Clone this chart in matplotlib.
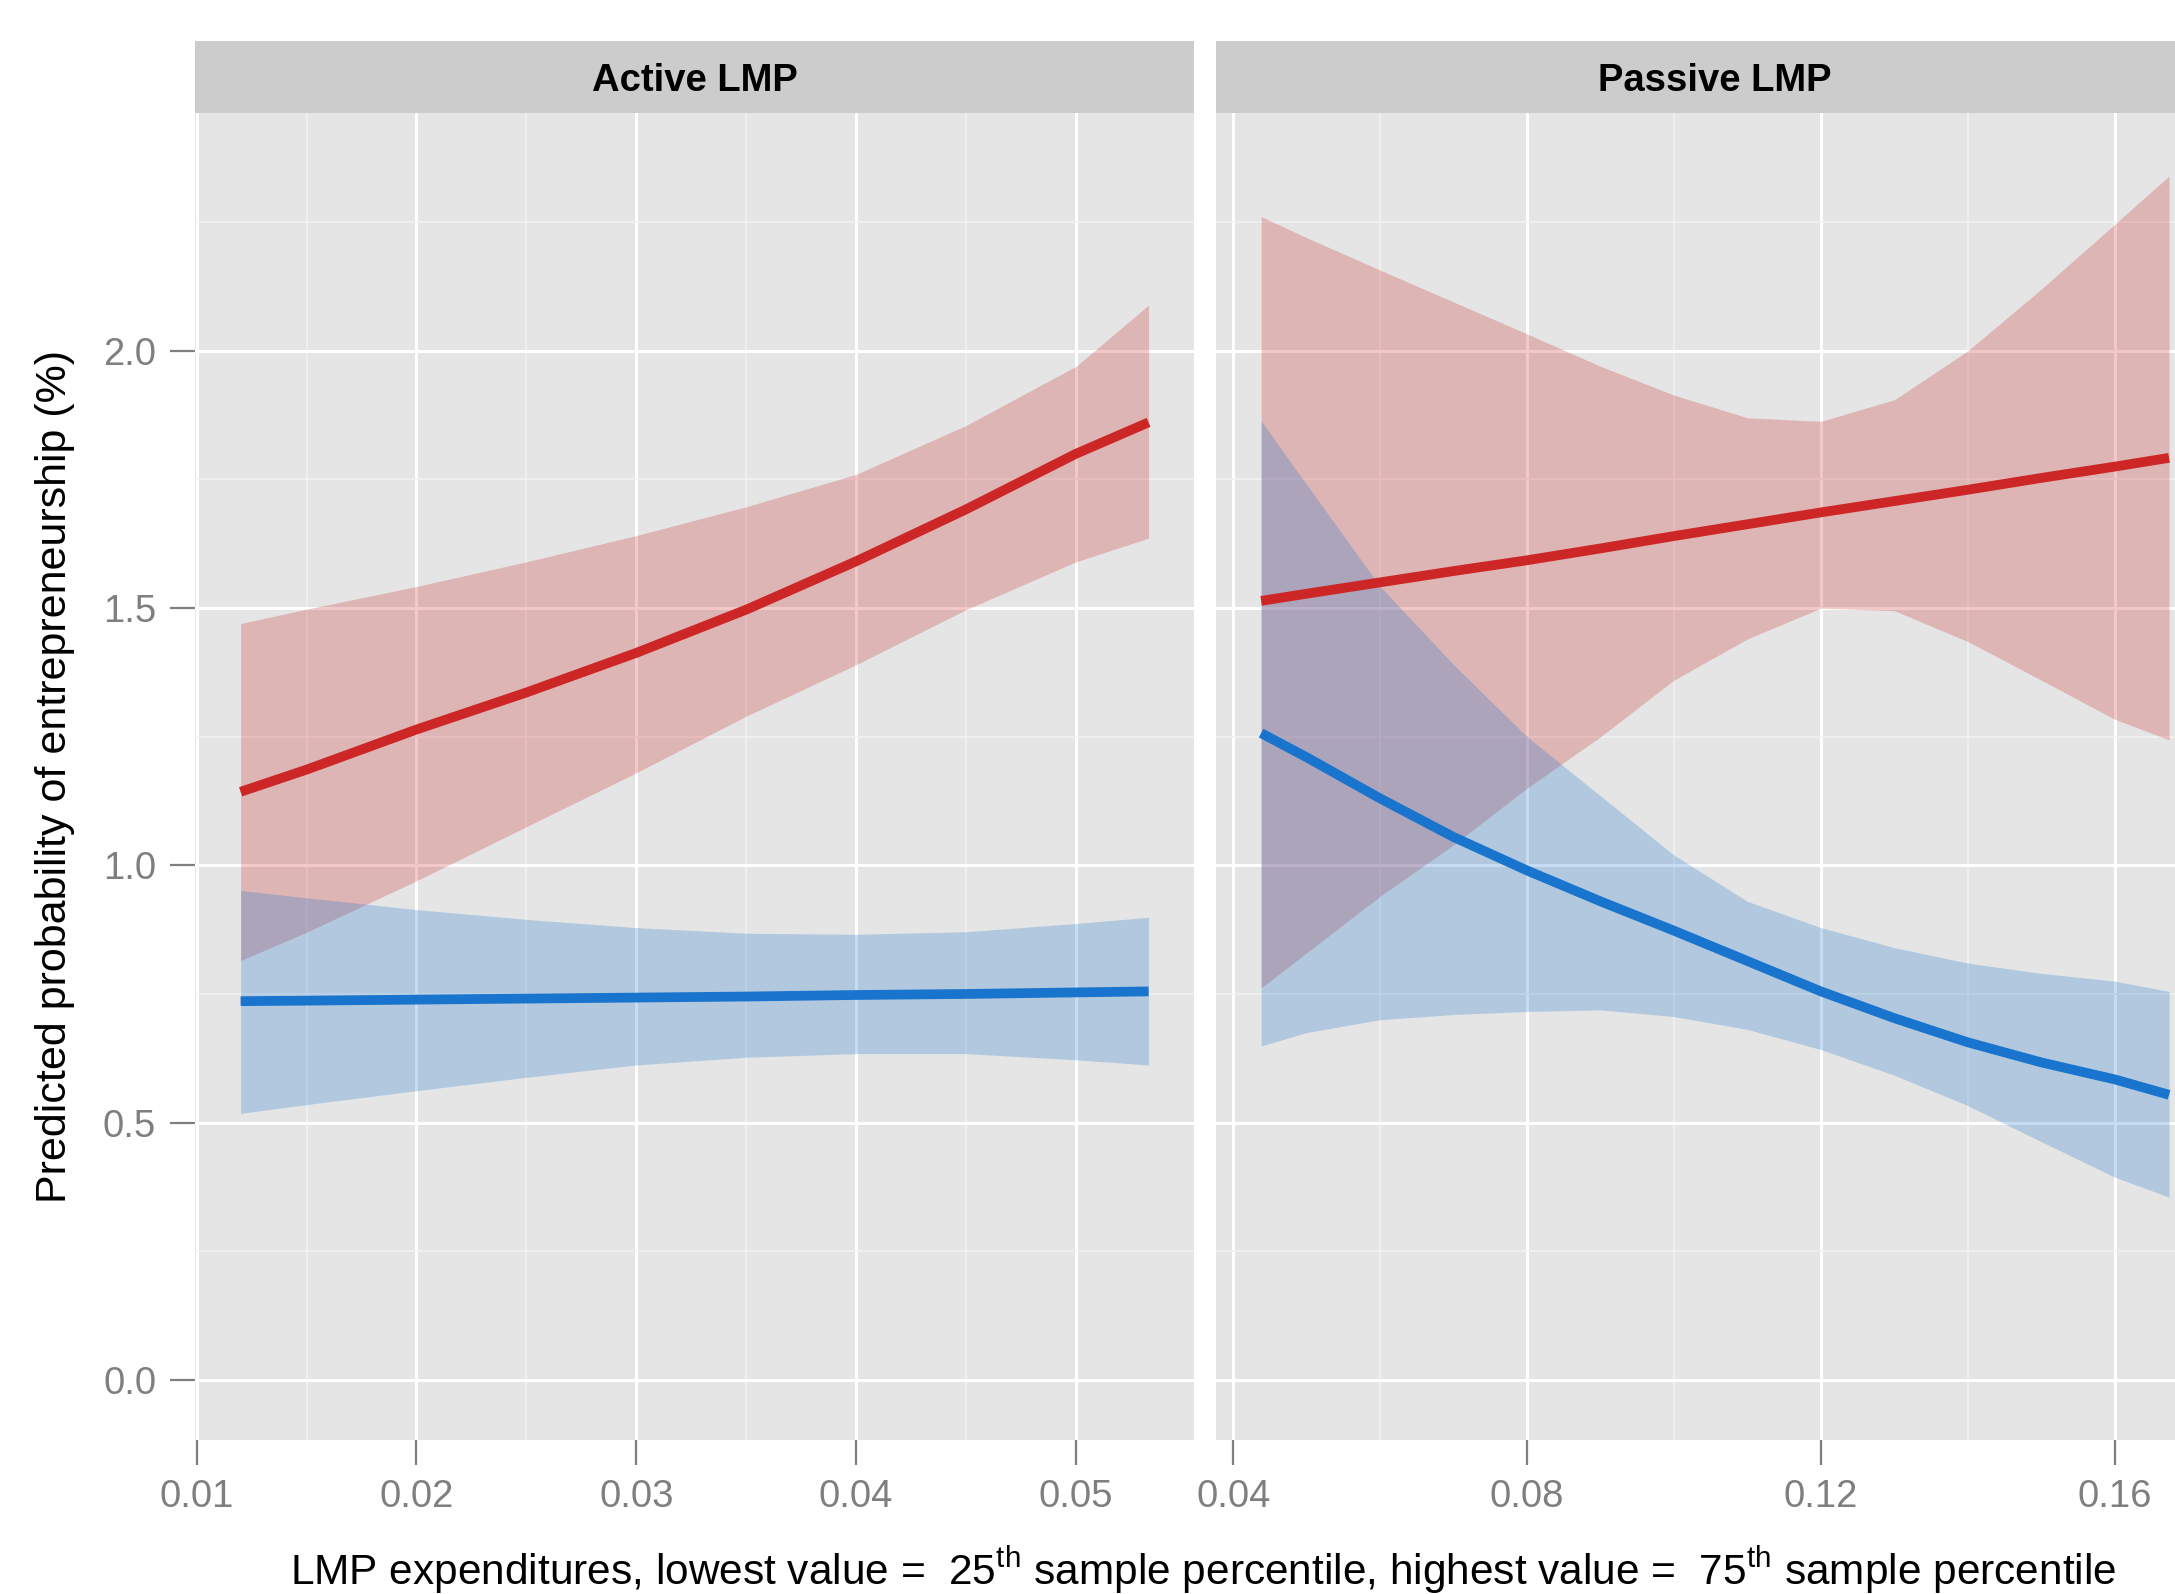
import matplotlib
matplotlib.use("Agg")
import matplotlib.pyplot as plt
import matplotlib.font_manager as fm
from matplotlib.ticker import FixedLocator

# --- data ---
panels = ["Active LMP", "Passive LMP"]

active_x = [0.012, 0.015, 0.02, 0.025, 0.03, 0.035, 0.04, 0.045, 0.05, 0.0533]
active_red = [1.143, 1.186, 1.264, 1.336, 1.413, 1.497, 1.591, 1.692, 1.80, 1.861]
active_red_hi = [1.470, 1.498, 1.542, 1.590, 1.641, 1.697, 1.760, 1.855, 1.970, 2.089]
active_red_lo = [0.815, 0.870, 0.970, 1.075, 1.180, 1.290, 1.390, 1.497, 1.590, 1.636]
active_blue = [0.736, 0.737, 0.739, 0.741, 0.743, 0.745, 0.748, 0.750, 0.753, 0.755]
active_blue_hi = [0.951, 0.937, 0.914, 0.895, 0.879, 0.868, 0.866, 0.871, 0.887, 0.899]
active_blue_lo = [0.518, 0.535, 0.562, 0.588, 0.612, 0.627, 0.634, 0.634, 0.622, 0.612]

passive_x = [0.0438, 0.05, 0.06, 0.07, 0.08, 0.09, 0.10, 0.11, 0.12, 0.13, 0.14, 0.15, 0.16, 0.1674]
passive_red = [1.514, 1.528, 1.550, 1.572, 1.593, 1.616, 1.640, 1.663, 1.686, 1.708, 1.730, 1.753, 1.775, 1.792]
passive_red_hi = [2.261, 2.220, 2.157, 2.095, 2.033, 1.970, 1.914, 1.870, 1.863, 1.905, 2.000, 2.120, 2.246, 2.340]
passive_red_lo = [0.762, 0.830, 0.940, 1.040, 1.150, 1.250, 1.360, 1.440, 1.500, 1.495, 1.435, 1.360, 1.284, 1.244]
passive_blue = [1.257, 1.210, 1.130, 1.055, 0.990, 0.930, 0.873, 0.814, 0.755, 0.703, 0.656, 0.617, 0.584, 0.554]
passive_blue_hi = [1.864, 1.740, 1.542, 1.390, 1.250, 1.135, 1.020, 0.930, 0.879, 0.840, 0.810, 0.790, 0.775, 0.755]
passive_blue_lo = [0.649, 0.675, 0.700, 0.710, 0.716, 0.719, 0.706, 0.681, 0.642, 0.592, 0.533, 0.463, 0.394, 0.355]

y_ticks = [0.0, 0.5, 1.0, 1.5, 2.0]
active_ticks = [0.01, 0.02, 0.03, 0.04, 0.05]
passive_ticks = [0.04, 0.08, 0.12, 0.16]

RED = "#CD2626"
BLUE = "#1874CD"

names = {f.name for f in fm.fontManager.ttflist}
narrow = "Liberation Sans Narrow" in names
font = "Liberation Sans Narrow" if narrow else "Liberation Sans"
k = 1.0 if narrow else 0.86  # shrink a wide font to keep text lengths
plt.rcParams["font.family"] = [font, "DejaVu Sans"]
plt.rcParams["mathtext.fontset"] = "custom"
plt.rcParams["mathtext.rm"] = font

fig = plt.figure(figsize=(21.75, 15.94), dpi=100)

left0, bottom, w, h = 0.0897, 0.0966, 0.4593, 0.8324
lefts = [left0, 0.5589]
strip_h = 0.0453

data = [
    (active_x, active_red, active_red_lo, active_red_hi, active_blue, active_blue_lo, active_blue_hi,
     (0.00993, 0.05537), active_ticks, [0.015, 0.025, 0.035, 0.045]),
    (passive_x, passive_red, passive_red_lo, passive_red_hi, passive_blue, passive_blue_lo, passive_blue_hi,
     (0.0376, 0.1736), passive_ticks, [0.06, 0.10, 0.14]),
]

for i, (name, lx, d) in enumerate(zip(panels, lefts, data)):
    x, r, rlo, rhi, b, blo, bhi, xlim, xt, xminor = d
    ax = fig.add_axes([lx, bottom, w, h])
    ax.set_facecolor("#E5E5E5")
    ax.set_xlim(*xlim)
    ax.set_ylim(-0.117, 2.462)
    ax.set_xticks(xt)
    ax.set_xticklabels([f"{v:g}" for v in xt])
    ax.xaxis.set_minor_locator(FixedLocator(xminor))
    ax.set_yticks(y_ticks)
    ax.yaxis.set_minor_locator(FixedLocator([0.25, 0.75, 1.25, 1.75, 2.25]))
    ax.grid(which="major", color="white", linewidth=2.2)
    ax.grid(which="minor", color="#F2F2F2", linewidth=1.2)
    ax.set_axisbelow(True)
    for s in ax.spines.values():
        s.set_visible(False)
    ax.tick_params(which="major", length=18, width=1.6, color="#7F7F7F",
                   labelcolor="#7F7F7F", labelsize=32 * k, pad=10)
    ax.tick_params(which="minor", length=0)
    if i == 1:
        ax.tick_params(axis="y", which="both", length=0, labelleft=False)

    # ribbons first, then lines (ggplot layer order)
    ax.fill_between(x, rlo, rhi, color=RED, alpha=0.25, linewidth=0)
    ax.fill_between(x, blo, bhi, color=BLUE, alpha=0.25, linewidth=0)
    ax.plot(x, r, color=RED, linewidth=7, solid_capstyle="butt")
    ax.plot(x, b, color=BLUE, linewidth=7, solid_capstyle="butt")

    sax = fig.add_axes([lx, bottom + h, w, strip_h])
    sax.set_facecolor("#CCCCCC")
    sax.set_xticks([])
    sax.set_yticks([])
    for s in sax.spines.values():
        s.set_visible(False)
    sax.text(0.5, 0.44, name, ha="center", va="center", fontsize=32 * k,
             fontweight="bold", transform=sax.transAxes)

fig.text(0.0254, 0.513, "Predicted probability of entrepreneurship (%)",
         rotation=90, ha="center", va="center", fontsize=36 * k)
fig.text(0.5533, 0.006,
         r"LMP expenditures, lowest value =  25$^{\mathrm{th}}$ sample percentile, "
         r"highest value =  75$^{\mathrm{th}}$ sample percentile",
         ha="center", va="baseline", fontsize=35.5 * k)

fig.savefig("out.png", dpi=100)
